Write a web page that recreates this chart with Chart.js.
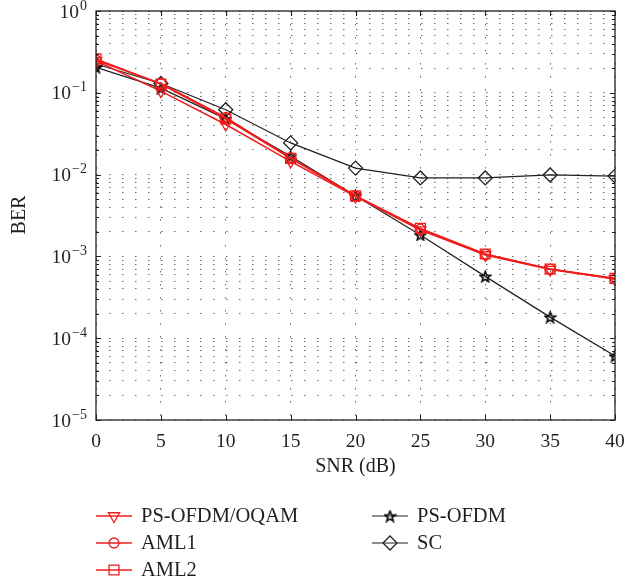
<!DOCTYPE html>
<html>
<head>
<meta charset="utf-8">
<title>BER vs SNR</title>
<script src="https://cdn.jsdelivr.net/npm/chart.js@4.4.1/dist/chart.umd.min.js"></script>
<style>
  html, body { margin: 0; padding: 0; background: #fff; }
  #wrap { position: relative; width: 626px; height: 586px; }
</style>
</head>
<body>
<div id="wrap"><canvas id="berChart"></canvas></div>
<script>
// SNR sweep (dB)
const snrDb = [0, 5, 10, 15, 20, 25, 30, 35, 40];

// BER per scheme
const berPsOfdmOqam = [0.245, 0.105, 0.041, 0.0145, 0.0054, 0.0021, 0.00104, 0.00069, 0.00053];
const berAml1       = [0.25, 0.13, 0.05, 0.016, 0.0055, 0.00215, 0.00106, 0.0007, 0.00053];
const berAml2       = [0.26, 0.128, 0.048, 0.0158, 0.0055, 0.0022, 0.00107, 0.0007, 0.00054];
const berPsOfdm     = [0.205, 0.114, 0.048, 0.0168, 0.0055, 0.00183, 0.00057, 0.000181, 0.0000605];
const berSc         = [0.225, 0.13, 0.062, 0.0244, 0.012, 0.0091, 0.0091, 0.0099, 0.0096];

// axis ticks
const xTicks = [0, 5, 10, 15, 20, 25, 30, 35, 40];
const decades = [-5, -4, -3, -2, -1, 0];
const mantissas = [1, 2, 3, 4, 5, 6, 7, 8, 9];

const RED = '#f21c1c';
const INK = '#231f20';
const GRID = '#6a6a6a';
const SERIF = '"Liberation Serif", "DejaVu Serif", serif';

// log ticks: every mantissa of every decade, up to 10^0
const yTickValues = [];
decades.forEach(d => mantissas.forEach(m => {
  const v = m * Math.pow(10, d);
  if (v <= 1) yTickValues.push(v);
}));

// MATLAB-style five point star marker (outline only)
function pentagram(size, color){
  const c = document.createElement('canvas');
  c.width = c.height = size;
  const g = c.getContext('2d');
  const r = size / 2 - 1, ri = r * 0.42, cx = size / 2, cy = size / 2 + 0.6;
  g.beginPath();
  for (let i = 0; i < 10; i++){
    const a = -Math.PI / 2 + i * Math.PI / 5;
    const rr = i % 2 ? ri : r;
    g.lineTo(cx + rr * Math.cos(a), cy + rr * Math.sin(a));
  }
  g.closePath();
  g.strokeStyle = color;
  g.lineWidth = 1.6;
  g.stroke();
  return c;
}
const starMark = pentagram(13, '#000');

function series(label, ys, color, style, radius, extra){
  return Object.assign({
    label,
    data: snrDb.map((x, i) => ({ x, y: ys[i] })),
    borderColor: color,
    borderWidth: 1.5,
    pointStyle: style,
    pointRadius: radius,
    pointBorderColor: color,
    pointBackgroundColor: 'rgba(0,0,0,0)',
    pointBorderWidth: 1.3,
    tension: 0
  }, extra || {});
}

const datasets = [
  series('PS-OFDM/OQAM', berPsOfdmOqam, RED, 'triangle', 6.5, { pointRotation: 180 }),
  series('AML1', berAml1, RED, 'circle', 5),
  series('AML2', berAml2, RED, 'rect', 7),
  series('PS-OFDM', berPsOfdm, INK, starMark, 6, { borderWidth: 1.2 }),
  series('SC', berSc, INK, 'rectRot', 7, { borderWidth: 1.2 })
];

// legend slots: [line start x, row y]
const legendSlots = [[96, 516], [96, 543], [96, 570], [372, 516], [372, 543]];

const axisFrame = {
  id: 'axisFrame',
  afterDatasetsDraw(chart){
    const { ctx, chartArea: a, scales: { x, y } } = chart;
    ctx.save();

    // box
    ctx.strokeStyle = INK;
    ctx.lineWidth = 1.3;
    ctx.strokeRect(a.left, a.top, a.right - a.left, a.bottom - a.top);

    // inward ticks
    ctx.lineWidth = 1;
    ctx.beginPath();
    xTicks.forEach(v => {
      const px = Math.round(x.getPixelForValue(v)) + 0.5;
      ctx.moveTo(px, a.bottom); ctx.lineTo(px, a.bottom - 5);
      ctx.moveTo(px, a.top); ctx.lineTo(px, a.top + 5);
    });
    yTickValues.forEach((v, i) => {
      const py = Math.round(y.getPixelForValue(v)) + 0.5;
      const len = (i % 9 === 0) ? 5 : 3;
      ctx.moveTo(a.left, py); ctx.lineTo(a.left + len, py);
      ctx.moveTo(a.right, py); ctx.lineTo(a.right - len, py);
    });
    ctx.stroke();

    // decade labels 10^k
    ctx.fillStyle = INK;
    ctx.textBaseline = 'middle';
    ctx.textAlign = 'right';
    decades.forEach(d => {
      const py = y.getPixelForValue(Math.pow(10, d));
      const sup = d === 0 ? '0' : '\u2212' + Math.abs(d);
      ctx.font = '14px ' + SERIF;
      const w = ctx.measureText(sup).width;
      ctx.fillText(sup, 87, py - 5);
      ctx.font = '19.5px ' + SERIF;
      ctx.fillText('10', 87 - w - 1, py + 1.5);
    });

    // y title
    ctx.save();
    ctx.translate(20, 215);
    ctx.rotate(-Math.PI / 2);
    ctx.textAlign = 'center';
    ctx.font = '20px ' + SERIF;
    ctx.fillText('BER', 0, 0);
    ctx.restore();

    // legend
    chart.data.datasets.forEach((ds, i) => {
      const [lx, ly] = legendSlots[i];
      ctx.strokeStyle = ds.borderColor;
      ctx.lineWidth = ds.borderWidth;
      ctx.beginPath();
      ctx.moveTo(lx, ly); ctx.lineTo(lx + 36, ly);
      ctx.stroke();
      ctx.fillStyle = 'rgba(0,0,0,0)';
      ctx.strokeStyle = ds.pointBorderColor;
      ctx.lineWidth = ds.pointBorderWidth;
      Chart.helpers.drawPoint(ctx, {
        pointStyle: ds.pointStyle,
        radius: ds.pointRadius,
        rotation: ds.pointRotation || 0,
        borderWidth: ds.pointBorderWidth
      }, lx + 18, ly);
      ctx.fillStyle = INK;
      ctx.textAlign = 'left';
      ctx.font = '20.5px ' + SERIF;
      ctx.fillText(ds.label, lx + 45, ly + 1);
    });

    ctx.restore();
  }
};

new Chart(document.getElementById('berChart'), {
  type: 'line',
  data: { datasets },
  options: {
    responsive: true,
    maintainAspectRatio: false,
    animation: false,
    layout: { padding: { left: 96, right: 11, top: 11, bottom: 101 } },
    plugins: { legend: { display: false }, tooltip: { enabled: false } },
    scales: {
      x: {
        type: 'linear',
        min: 0, max: 40,
        afterBuildTicks: s => { s.ticks = xTicks.map(v => ({ value: v })); },
        afterFit: s => { s.height = 65; s.paddingLeft = 0; s.paddingRight = 0; },
        ticks: { color: INK, font: { family: SERIF, size: 19.5 }, padding: 10 },
        grid: { color: GRID, lineWidth: 1, drawTicks: false },
        border: { display: false, dash: [1.5, 11.5] },
        title: { display: true, text: 'SNR (dB)', color: INK, font: { family: SERIF, size: 20 }, padding: { top: 2, bottom: 6 } }
      },
      y: {
        type: 'logarithmic',
        min: 1e-5, max: 1,
        afterBuildTicks: s => { s.ticks = yTickValues.map(v => ({ value: v })); },
        afterFit: s => { s.width = 0; },
        ticks: { display: false },
        grid: { color: GRID, lineWidth: 1, drawTicks: false },
        border: { display: false, dash: [1.5, 11.5] }
      }
    }
  },
  plugins: [axisFrame]
});
</script>
</body>
</html>
